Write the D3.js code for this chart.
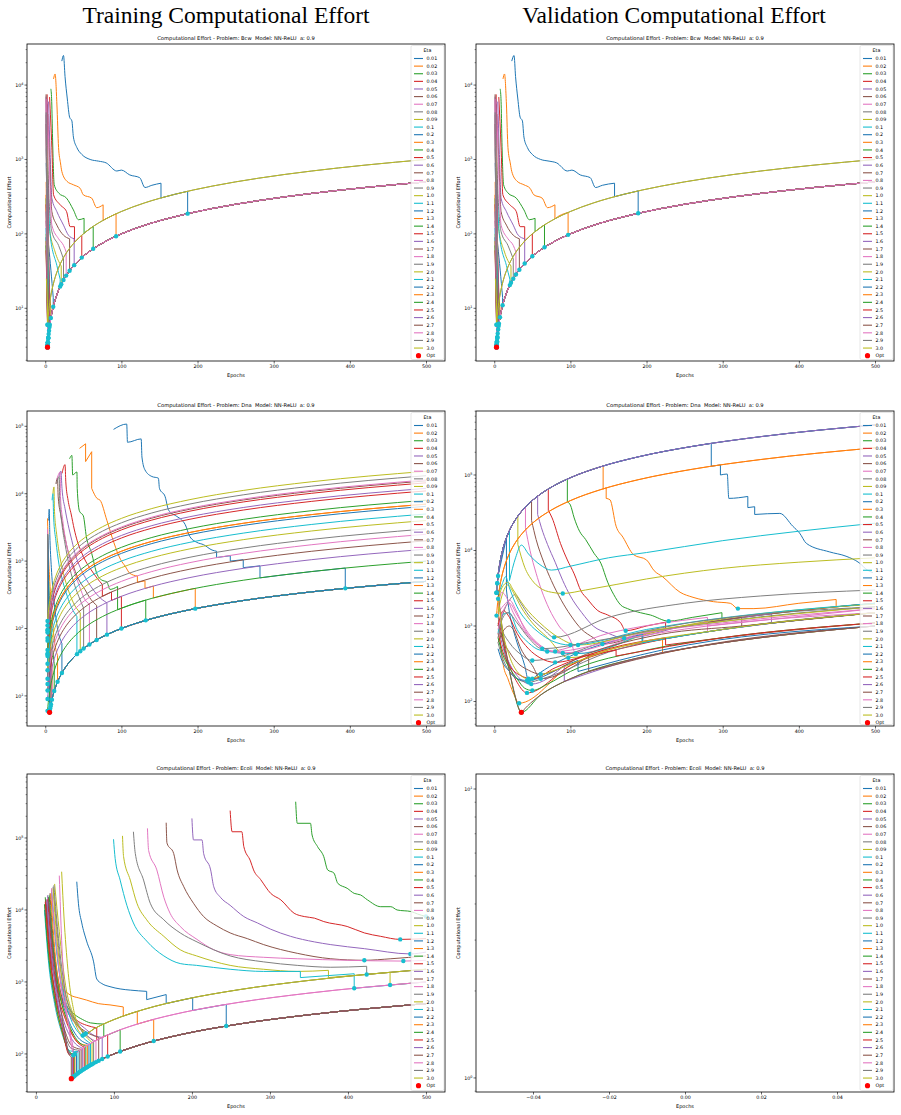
<!DOCTYPE html>
<html><head><meta charset="utf-8">
<script src="https://cdn.jsdelivr.net/npm/d3@7"></script>
<style>
body{margin:0;background:#fff;}
svg text{font-family:"DejaVu Sans",sans-serif;fill:#000;}
</style></head>
<body><svg id="fig" width="901" height="1115"></svg>
<script>
const etas = ["0.01","0.02","0.03","0.04","0.05","0.06","0.07","0.08","0.09","0.1","0.2","0.3","0.4","0.5","0.6","0.7","0.8","0.9","1.0","1.1","1.2","1.3","1.4","1.5","1.6","1.7","1.8","1.9","2.0","2.1","2.2","2.3","2.4","2.5","2.6","2.7","2.8","2.9","3.0"];
const palette = ["#1f77b4","#ff7f0e","#2ca02c","#d62728","#9467bd","#8c564b","#e377c2","#7f7f7f","#bcbd22","#17becf"];

// ---- shared tail lines (effort = epochs x runs) ----
const bcwKnots = [2,3,4,5,6,8,10,13,17,22,28,35,45,60,80,100,130,170,220,280,350,420,500];
const bcwTails = {
  1: [2,3,4,5,6,8,10,13,17,22,28,35,45,60,80,100,130,170,220,280,350,420,500],
  2: [4,6,8,10,12,16,20,26,34,44,56,70,90,120,160,200,260,340,440,560,700,840,1000]
};
const dnaKnots = [3,4,5,7,10,14,20,28,40,55,75,100,140,190,260,350,500];
const dnaTrainTails = {
  1: [3,4,5,7,10,14,20,28,40,55,75,100,140,190,260,350,500],
  2: [6,8,10,14,20,28,40,56,80,110,150,200,280,380,520,700,1000],
  3: [9,12,15,21,30,42,60,84,120,165,225,300,420,570,780,1050,1500],
  4: [12,16,20,28,40,56,80,112,160,220,300,400,560,760,1040,1400,2000],
  5: [15,20,25,35,50,70,100,140,200,275,375,500,700,950,1300,1750,2500],
  6: [18,24,30,42,60,84,120,168,240,330,450,600,840,1140,1560,2100,3000],
  8: [24,32,40,56,80,112,160,224,320,440,600,800,1120,1520,2080,2800,4000],
  10: [30,40,50,70,100,140,200,280,400,550,750,1000,1400,1900,2600,3500,5000],
  13: [39,52,65,91,130,182,260,364,520,715,975,1300,1820,2470,3380,4550,6500],
  14: [42,56,70,98,140,196,280,392,560,770,1050,1400,1960,2660,3640,4900,7000],
  16: [48,64,80,112,160,224,320,448,640,880,1200,1600,2240,3040,4160,5600,8000],
  22: [66,88,110,154,220,308,440,616,880,1210,1650,2200,3080,4180,5720,7700,11000],
  24: [72,96,120,168,240,336,480,672,960,1320,1800,2400,3360,4560,6240,8400,12000],
  29: [87,116,145,203,290,406,580,812,1160,1595,2175,2900,4060,5510,7540,10150,14500],
  31: [93,124,155,217,310,434,620,868,1240,1705,2325,3100,4340,5890,8060,10850,15500],
  32: [96,128,160,224,320,448,640,896,1280,1760,2400,3200,4480,6080,8320,11200,16000],
  37: [111,148,185,259,370,518,740,1036,1480,2035,2775,3700,5180,7030,9620,12950,18500],
  43: [129,172,215,301,430,602,860,1204,1720,2365,3225,4300,6020,8170,11180,15050,21500]
};
const dnaValTails = {
  2: [6,8,10,14,20,28,40,56,80,110,150,200,280,380,520,700,1000],
  458: [1374,1832,2290,3206,4580,6412,9160,12824,18320,25190,34350,45800,64120,87020,119080,160300,229000],
  920: [2760,3680,4600,6440,9200,12880,18400,25760,36800,50600,69000,92000,128800,174800,239200,322000,460000]
};
const ecoliKnots = [10,14,20,28,40,55,75,100,140,190,260,350,500];
const ecoliTrainTails = {
  1: [10,14,20,28,40,55,75,100,140,190,260,350,500],
  2: [20,28,40,56,80,110,150,200,280,380,520,700,1000],
  3: [30,42,60,84,120,165,225,300,420,570,780,1050,1500]
};

// ---- curves, one per eta, [epoch, effort] points or ['T', k, from, to] pieces along a tail ----
const bcwTrainCurves = [
  [[21.8,21000],[24,25000],[26,13000],[29,6500],[32,3700],[35,3300],[37,2000],[41.5,1450],[48,1170],[59,1000],[70,950],[80,900],[94,700],[100,720],[111,620],[124,570],[131,420],[140,450],[152,480],[152,304],['T',2,152,186],[187,374],[187,187],['T',1,187,500]],
  [[10.9,12100],[13,14100],[15.3,5560],[17.5,1450],[20,900],[21.8,690],[28.4,510],[37,457],[45.8,410],[50,335],[61,302],[67.6,225],[76,246],[76,152],['T',2,76,92],[93,186],[93,93],['T',1,93,500]],
  [[7.4,8900],[8.5,6000],[9.6,1950],[11.8,457],[17.5,355],[28,302],[37,210],[43.6,155],[51,162],[51,102],['T',2,51,62],[63,126],[63,63],['T',1,63,500]],
  [[5.7,6900],[8.7,1435],[10.9,335],[19.6,246],[28,199],[32.7,125],[38.4,125],[38.4,77],['T',2,38.4,47],[48,96],[48,48],['T',1,48,500]],
  [[4.4,6000],[6.5,1166],[8.7,302],[15.3,199],[24,131],[30.5,96],[38,86],[38,38],['T',1,38,500]],
  [[3.5,4070],[5.7,1050],[8.7,199],[15.3,131],[24,96],[32,86],[32,32],['T',1,32,500]],
  [[3,5500],[5.7,690],[8.7,131],[17.5,86],[24,70],[27.5,57],[27.5,27.5],['T',1,27.5,500]],
  [[2.2,4000],[4.4,410],[8.7,107],[17.5,70],[24,46],[24,24],['T',1,24,500]],
  [[2.2,800],[5,131],[13,57],[21,37],[21,21],['T',1,21,500]],
  [[3,560],[6.5,96],[15.3,37.5],[19.6,24.6],[19.6,19.6],['T',1,19.6,500]],
  [[1.5,131],[4.4,70],[10.5,14],[10.5,10.5],['T',1,10.5,500]],
  [[1,335],[1.5,130],[7.4,10],[7.4,7.4],['T',1,7.4,500]],
  [[1.2,150],[3,60],[6,15],[6,6],['T',1,6,500]],
  [[2.5,7500],[3,1200],[4.5,60],[5.6,20],[5.6,5.6],['T',1,5.6,500]],
  [[2.2,6500],[3,900],[4.5,40],[5,30],[5,5],['T',1,5,500]],
  [[2,5500],[3,700],[4.5,30],[4.5,4.5],['T',1,4.5,500]],
  [[1.8,6000],[2.5,1500],[4,40],[4,4],['T',1,4,500]],
  [[1.6,4300],[2.5,600],[4,25],[4,4],['T',1,4,500]],
  [[1.5,3000],[2.5,300],[4,20],[4,4],['T',1,4,500]],
  [[1.4,1400],[2.5,200],[4,15],[4,4],['T',1,4,500]],
  [[1.3,900],[2.5,150],[3.5,20],[3.5,3.5],['T',1,3.5,500]],
  [[1.2,500],[2,100],[3.5,15],[3.5,3.5],['T',1,3.5,500]],
  [[1.2,300],[3.5,12],[3.5,3.5],['T',1,3.5,500]],
  [[1.1,250],[3.5,10],[3.5,3.5],['T',1,3.5,500]],
  [[1.1,200],[3.3,10],[3.3,3.3],['T',1,3.3,500]],
  [[1.1,3000],[2,200],[3.3,9],[3.3,3.3],['T',1,3.3,500]],
  [[1.1,150],[3.3,8],[3.3,3.3],['T',1,3.3,500]],
  [[1.1,4000],[2,300],[3.2,8],[3.2,3.2],['T',1,3.2,500]],
  [[1.1,100],[3.2,8],[3.2,3.2],['T',1,3.2,500]],
  [[1.1,120],[3.2,7],[3.2,3.2],['T',1,3.2,500]],
  [[1.1,90],[3.1,7],[3.1,3.1],['T',1,3.1,500]],
  [[1.1,80],[3.1,6],[3.1,3.1],['T',1,3.1,500]],
  [[1.1,70],[3.1,6],[3.1,3.1],['T',1,3.1,500]],
  [[1.1,60],[3,6],[3,3],['T',1,3,500]],
  [[1.1,7000],[1.8,500],[3,6],[3,3],['T',1,3,500]],
  [[1.1,7500],[1.8,600],[3,6],[3,3],['T',1,3,500]],
  [[1.1,6500],[1.8,400],[3,5],[3,3],['T',1,3,500]],
  [[1.2,4300],[2,300],[3,20],[3,6],['T',2,3,500]],
  [[1.5,25],[3,12],[3,6],['T',2,3,500]]
];
const bcwValCurves = [
  [[23,21000],[26,25000],[28,13000],[31,6500],[34,3700],[37,3300],[39,2000],[43.5,1450],[50,1170],[61,1000],[72,950],[82,900],[96,700],[102,720],[113,620],[126,570],[133,420],[142,450],[158,480],[158,316],['T',2,158,188],[189,378],[189,189],['T',1,189,500]],
  [[11.5,12100],[13.5,14100],[16,5560],[18,1450],[21,900],[23,690],[30,510],[39,457],[47,410],[52,335],[63,302],[70,225],[79.7,246],[79.7,159],['T',2,79.7,96],[97,194],[97,97],['T',1,97,500]],
  [[7.8,8900],[9,6000],[10,1950],[12.3,457],[18,355],[29,302],[39,210],[46,155],[53.6,162],[53.6,107],['T',2,53.6,65],[66,132],[66,66],['T',1,66,500]],
  [[6,6900],[9,1435],[11.3,335],[20.5,246],[29,199],[34,125],[40,125],[40,80],['T',2,40,49],[50,100],[50,50],['T',1,50,500]],
  [[4.6,6000],[6.8,1166],[9,302],[16,199],[25,131],[31.5,96],[40,86],[40,40],['T',1,40,500]],
  [[3.6,4070],[5.9,1050],[9,199],[16,131],[25,96],[33,86],[33,33],['T',1,33,500]],
  [[3.1,5500],[5.9,690],[9,131],[18,86],[25,70],[28.5,57],[28.5,28.5],['T',1,28.5,500]],
  [[2.3,4000],[4.6,410],[9,107],[18,70],[25,46],[25,25],['T',1,25,500]],
  [[2.3,800],[5.2,131],[13.5,57],[22,37],[22,22],['T',1,22,500]],
  [[3.1,560],[6.8,96],[16,37.5],[20.5,24.6],[20.5,20.5],['T',1,20.5,500]],
  [[1.5,131],[4.6,70],[11,14],[11,11],['T',1,11,500]],
  [[1,335],[1.5,130],[7.6,10],[7.6,7.6],['T',1,7.6,500]],
  [[1.2,150],[3,60],[6.2,15],[6.2,6.2],['T',1,6.2,500]],
  [[2.5,7500],[3,1200],[4.5,60],[5.8,20],[5.8,5.8],['T',1,5.8,500]],
  [[2.2,6500],[3,900],[4.5,40],[5.2,30],[5.2,5.2],['T',1,5.2,500]],
  [[2,5500],[3,700],[4.6,30],[4.6,4.6],['T',1,4.6,500]],
  [[1.8,6000],[2.5,1500],[4.1,40],[4.1,4.1],['T',1,4.1,500]],
  [[1.6,4300],[2.5,600],[4.1,25],[4.1,4.1],['T',1,4.1,500]],
  [[1.5,3000],[2.5,300],[4,20],[4,4],['T',1,4,500]],
  [[1.4,1400],[2.5,200],[4,15],[4,4],['T',1,4,500]],
  [[1.3,900],[2.5,150],[3.6,20],[3.6,3.6],['T',1,3.6,500]],
  [[1.2,500],[2,100],[3.6,15],[3.6,3.6],['T',1,3.6,500]],
  [[1.2,300],[3.5,12],[3.5,3.5],['T',1,3.5,500]],
  [[1.1,250],[3.5,10],[3.5,3.5],['T',1,3.5,500]],
  [[1.1,200],[3.3,10],[3.3,3.3],['T',1,3.3,500]],
  [[1.1,3000],[2,200],[3.3,9],[3.3,3.3],['T',1,3.3,500]],
  [[1.1,150],[3.3,8],[3.3,3.3],['T',1,3.3,500]],
  [[1.1,4000],[2,300],[3.2,8],[3.2,3.2],['T',1,3.2,500]],
  [[1.1,100],[3.2,8],[3.2,3.2],['T',1,3.2,500]],
  [[1.1,120],[3.2,7],[3.2,3.2],['T',1,3.2,500]],
  [[1.1,90],[3.1,7],[3.1,3.1],['T',1,3.1,500]],
  [[1.1,80],[3.1,6],[3.1,3.1],['T',1,3.1,500]],
  [[1.1,70],[3.1,6],[3.1,3.1],['T',1,3.1,500]],
  [[1.1,60],[3,6],[3,3],['T',1,3,500]],
  [[1.1,7000],[1.8,500],[3,6],[3,3],['T',1,3,500]],
  [[1.1,7500],[1.8,600],[3,6],[3,3],['T',1,3,500]],
  [[1.1,6500],[1.8,400],[3,5],[3,3],['T',1,3,500]],
  [[1.2,4300],[2,300],[3,20],[3,6],['T',2,3,500]],
  [[1.5,25],[3,12],[3,6],['T',2,3,500]]
];
const dnaTrainCurves = [
  [[89.7,90000],[107,108000],[108,58000],[126,65000],[127,35000],[131,22500],[140,18000],[148.6,17000],[150,12000],[157.5,9000],[162,5700],[172.8,4600],[179,4100],[183.7,3500],[190,2300],[199,1900],[208,1750],[219,1460],[225,1400],[225,1130],[243,1200],[243,1000],[260,1050],[260,800],[282,850],[282,564],['T',2,282,393],[394,788],[394,394],['T',1,394,500]],
  [[45,47000],[53,55000],[53,30000],[61,42000],[61,12000],[68,8500],[72,8000],[81,4000],[90,1900],[99,1050],[105,840],[111,660],[121,600],[121,484],[131,510],[131,393],[142,426],[142,284],['T',2,142,196],[197,394],[197,197],['T',1,197,500]],
  [[32,33000],[35,37000],[36,19000],[41.6,21000],[42,12000],[45,5500],[50,4700],[54,2300],[61,1300],[68,640],[74,525],[81,490],[85,380],[95,420],[95,190],['T',2,95,131],[132,264],[132,132],['T',1,132,500]],
  [[22,20000],[26,27000],[27,15000],[30,8000],[34,5000],[38,3000],[42,2000],[47,1400],[53,1000],[60,750],[68,560],[75,450],[75,300],[87,348],[87,261],[100,300],[100,100],['T',1,100,500]],
  [[18,18000],[20.6,21700],[22,12000],[26,6000],[30,3500],[35,2000],[40,1200],[46,800],[53,560],[60,420],[70,300],[81,240],[81,81],['T',1,81,500]],
  [[14,14000],[16.1,17000],[17,9000],[21,4500],[25,2500],[30,1400],[36,900],[43,560],[52,380],[60,270],[67.5,220],[67.5,67.5],['T',1,67.5,500]],
  [[15,16000],[19.7,21000],[20,9000],[23,4000],[27,2000],[32,1100],[38,700],[45,420],[52,270],[58,230],[58,58],['T',1,58,500]],
  [[15,14000],[18.4,18000],[19,8000],[22,3500],[26,1800],[31,900],[37,500],[44,300],[50.4,200],[50.4,50.4],['T',1,50.4,500]],
  [[10,10000],[11.5,12600],[12,6000],[15,2500],[19,1200],[24,650],[30,380],[37,240],[46,170],[46,46],['T',1,46,500]],
  [[9,8000],[10.1,10000],[11,4500],[14,2000],[18,900],[23,500],[29,300],[35,200],[41.6,150],[41.6,41.6],['T',1,41.6,500]],
  [[4.5,4000],[5.2,5900],[6,2500],[8,800],[11,300],[15,120],[21.9,60],[21.9,21.9],['T',1,21.9,500]],
  [[3,4300],[4,1500],[6,500],[9,150],[12.5,60],[16.2,40],[16.2,16.2],['T',1,16.2,500]],
  [[3,2500],[4,800],[6,200],[9,60],[11.8,30],[11.8,11.8],['T',1,11.8,500]],
  [[3,1500],[4,500],[6,100],[8.8,25],[8.8,8.8],['T',1,8.8,500]],
  [[3,2300],[4,400],[6,40],[7.5,20],[7.5,7.5],['T',1,7.5,500]],
  [[3,2000],[4.5,200],[7,20],[7,7],['T',1,7,500]],
  [[3,3000],[4.5,300],[6.5,20],[6.5,6.5],['T',1,6.5,500]],
  [[3,2300],[4.5,150],[6,15],[6,6],['T',1,6,500]],
  [[3,1800],[5,60],[6,12],[6,6],['T',1,6,500]],
  [[3,1000],[5,40],[5.7,10],[5.7,5.7],['T',1,5.7,500]],
  [[3.5,2500],[4.5,300],[5.7,20],[5.7,5.7],['T',1,5.7,500]],
  [['T',14,0,500]],
  [['T',2,0,500]],
  [['T',29,0,500]],
  [['T',3,0,500]],
  [['T',4,0,500]],
  [['T',5,0,500]],
  [[3,1900],['T',6,0,500]],
  [['T',8,0,500]],
  [['T',10,0,500]],
  [['T',13,0,500]],
  [['T',14,0,500]],
  [['T',16,0,500]],
  [['T',22,0,500]],
  [['T',24,0,500]],
  [['T',31,0,500]],
  [['T',32,0,500]],
  [[3,2500],['T',37,0,500]],
  [['T',43,0,500]]
];
const dnaValCurves = [
  [['T',920,0,284],[285,262200],[285,130500],[297,136000],[297,100000],[306,103000],[308,49000],[333,52000],[333,37000],[342,38000],[342,30000],[375,31000],[392,21000],[401,17000],[410,12400],[440,9600],[462,8400],[479,6900],[490,5500],[497,5100]],
  [['T',920,0,142],[143,131560],[143,65500],[147,67300],[147,49000],[152,47000],[160,21000],[169,15000],[183,8800],[200,7500],[210,5400],[221,4500],[244,2800],[261,2400],[288,2100],[310,2000],[320,1700],[341,1700],[400,2000],[449,2245],[449,1800],[500,2000]],
  [['T',920,0,95],[96,88300],[96,44000],[100,40000],[105,27000],[112,18000],[120,14000],[131,9200],[140,6800],[149,3800],[157,2600],[166,1900],[175,1700],[192,1500],[205,1400],[229,1160],[260,1300],[299,1500],[299,1200],[400,1600],[500,2000]],
  [['T',920,0,70],[71,65320],[71,34000],[76,27000],[87,12400],[96,7500],[105,4900],[114,2900],[122,2300],[136,1600],[149,1400],[166,1100],[172.6,867],[200,1000],[225,1125],[225,900],[300,1200],[400,1600],[500,2000]],
  [['T',920,0,56],[57,52440],[57,30000],[62,20000],[70,12000],[80,7000],[90,4000],[100,2500],[115,1500],[130,1000],[150,800],[170.6,687],[250,1000],[364,1456],[364,1092],[430,1290],[500,1500]],
  [['T',920,0,48],[49,45080],[49,25000],[55,14000],[65,7000],[75,4000],[88,2200],[100,1400],[115,900],[130,700],[142,578],[200,800],[325,1300],[325,975],[420,1260],[500,1500]],
  [['T',920,0,40],[41,37720],[41,20000],[47,10000],[55,5000],[62,3000],[72,1700],[85,1000],[100,650],[107,430],[200,800],[280,1120],[280,840],[400,1200],[500,1500]],
  [[5,1000],[10,1300],[15,1800],[20,2200],[27,2600],[35,2000],[45,1400],[55,1100],[65,900],[78.6,708],[150,1300],[250,2000],[350,2500],[500,3000]],
  [['T',920,0,30],[31,28520],[31,12000],[40,6000],[50,4000],[60,3200],[75,2800],[90,2700],[120,3000],[200,4200],[300,5800],[400,7000],[500,8000]],
  [['T',920,0,19],[20,18400],[20,4000],[28,8000],[35.6,11800],[45,9000],[60,6500],[75,5500],[100,6200],[150,8000],[200,9400],[300,13500],[400,18000],[500,23000]],
  [[5,4600],[16,14700],[16,3000],[20,1500],[25,900],[30,600],[40,300],[45,190],[60,240],[72.6,290],[100,400],[195,780],[195,600],[300,900],[500,1500]],
  [[5,2000],[8,600],[12,300],[18,200],[25,130],[32.6,95],[100,300],[221,660],[221,442],[300,600],[400,800],[500,1000]],
  [[8,1500],[12,600],[20,250],[27,120],[35.6,72],[60,120],[100,200],[200,400],[300,600],[400,800],[500,1000]],
  [[6,1200],[12,600],[20,300],[30,180],[43,130],[100,300],[200,600],[300,900],[500,1500]],
  [[6,900],[12,500],[20,320],[30,220],[48.6,170],[92,300],[92,184],[200,400],[300,600],[500,1000]],
  [[5,600],[10,800],[20,1000],[25,900],[35,500],[50,300],[61,200],[124,400],[124,250],[250,500],[500,1000]],
  [[5,1500],[15,2000],[20,2200],[30,1500],[40,900],[55,600],[69.5,460],[150,800],[280,1300],[280,1000],[500,1700]],
  [[5,600],[10,400],[20,250],[30,200],[45,180],[63,200],[150,450],[300,900],[500,1500]],
  [[5,1500],[10,2500],[18,3500],[25,2800],[35,1800],[50,1100],[70,700],[97.3,380],[200,780],[500,1950]],
  [[5,800],[10,1400],[20,1500],[30,900],[45,600],[60,480],[107,430],[194,780],[194,600],[300,900],[500,1500]],
  [[5,500],[10,350],[20,250],[30,200],[43,190],[100,320],[110,350],[110,250],[220,480],[500,1000]],
  [['T',458,4.5,500]],
  [['T',920,3.5,500]],
  [[5,800],[10,500],[20,300],[35,220],[50,200],[80,280],[150,500],[225,700],[225,560],[350,800],[500,1100]],
  [['T',920,4.5,500]],
  [[5,1100],[10,700],[20,450],[30,330],[45,260],[61,230],[120,420],[220,780],[325,1000],[500,1500]],
  [[5,1800],[10,2800],[15,2500],[25,1500],[35,1000],[50,650],[70,480],[90,440],[200,820],[300,1100],[500,1700]],
  [[5,1300],[10,900],[20,600],[35,420],[50,350],[80,380],[150,650],[300,1150],[500,1800]],
  [[5,2200],[10,3200],[18,3800],[25,3000],[40,1800],[60,1100],[85,700],[110,560],[200,850],[350,1300],[500,1800]],
  [[5,2600],[10,3500],[15,4500],[20,3200],[30,1800],[45,1100],[60,800],[75,640],[100,560],[200,900],[500,2000]],
  [['T',920,3.5,500]],
  [['T',458,0,500]],
  [[5,700],[10,450],[20,280],[30,200],[40,150],[50,140],[70,170],[100,250],[200,480],[300,700],[500,1100]],
  [[5,1000],[12,1600],[20,1300],[30,800],[45,500],[60,380],[80,330],[120,400],[160,480],[160,400],[300,700],[500,1100]],
  [['T',920,0,500]],
  [[5,3000],[8,1500],[15,500],[25,150],[36,72],['T',2,36,500]],
  [[5,900],[12,1600],[20,2000],[30,1400],[45,800],[60,560],[80,460],[160,650],[280,1000],[500,1500]],
  [[5,700],[10,1200],[18,1500],[30,1100],[45,700],[63,500],[120,600],[255,1100],[500,1800]],
  [[5,2500],[10,1000],[20,400],[30,250],[45,200],[70,240],[150,480],[300,900],[500,1500]]
];
const ecoliTrainCurves = [
  [],
  [],
  [[333,319000],[335,160000],[352,160000],[354,110000],[361,76000],[369,55000],[374,36000],[382,32600],[387,23400],[399,20000],[408,17000],[416,16200],[425,13800],[442,11100],[455,11100],[463,10000],[481,9500],[489,8800],[500,8100]],
  [[249,240000],[251.5,122000],[264,122000],[266.5,76000],[275,48000],[279,36000],[288,26500],[301,17000],[314,13800],[331,9000],[344,8100],[357,7700],[369,6900],[399,5900],[421,4800],[442,4300],[467,3900],[500,4000]],
  [[200,187000],[202,94000],[213,94000],[215,61000],[224,36000],[228,21000],[236.5,15000],[249,11600],[266.5,8100],[284,6600],[301,5400],[326.5,4300],[357,3600],[378,3300],[421,2900],[480,2450],[500,2600]],
  [[167,163000],[168,85000],[176.6,61000],[181,36000],[189.6,21000],[202,12400],[215,8100],[232,6000],[249,4800],[271,4000],[292,3300],[335,2500],[378,2100],[421,2000],[455,2100],[500,2300]],
  [[143,136000],[144.5,67000],[155,36000],[164,15000],[172,9000],[185,5900],[206.5,3900],[228,2800],[249,2400],[292,2200],[335,2100],[399,2000],[471,1950],[500,2000]],
  [[125,122000],[127.4,61000],[138,26000],[146.6,12400],[164,7300],[185,4800],[206.5,3600],[249,2300],[292,1900],[335,1700],[378,1600],[424,1650],[424,1272],['T',3,424,500]],
  [[111,107000],[112.4,55000],[121,26000],[129.5,12400],[142,7300],[164,4300],[185,2800],[206,2300],[249,1700],[292,1500],[335,1400],[375,1450],[375,1150],[454,1360],[454,908],['T',2,454,500]],
  [[99.5,96000],[101.6,52000],[108,26000],[116.6,11600],[125,6600],[142,3700],[164,2300],[185,1800],[206,1700],[249,1500],[292,1400],[339,1400],[339,1150],[408,1300],[408,816],['T',2,408,500]],
  [[52.4,24700],[54.5,12400],[58.8,6600],[65,3700],[74,1900],[78,1100],[84.5,950],[95,860],[108,800],[121,770],[142,740],[142,568],[167,668],[167,501],[201,603],[201,402],['T',2,201,243],[244,488],[244,244],['T',1,244,500]],
  [[14,12000],[18,3000],[25,1200],[35,800],[45,650],[55,600],[65,560],[80,500],[95,480],[112,450],[112,336],[130,390],[130,260],[151,302],[151,151],['T',1,151,500]],
  [[12,15000],[16,4000],[22,1500],[30,700],[40,450],[50,350],[60,300],[70,270],[87,260],[87,174],[108,216],[108,108],['T',1,108,500]],
  [[13,14000],[18,3000],[25,1000],[35,500],[45,350],[55,280],[65,250],[78,230],[78,156],[92,184],[92,92],['T',1,92,500]],
  [[15,16000],[20,3500],[28,1000],[38,450],[50,300],[62,230],[75,180],[85,170],[85,85],['T',1,85,500]],
  [[18,17000],[22,4000],[30,900],[40,400],[52,260],[65,200],[80.5,170],[80.5,80.5],['T',1,80.5,500]],
  [[20,20000],[25,4500],[32,900],[42,380],[55,230],[68,170],[77,150],[77,77],['T',1,77,500]],
  [[22,21000],[28,4000],[35,800],[45,350],[58,220],[74,150],[74,74],['T',1,74,500]],
  [[24,23000],[30,5000],[38,900],[48,350],[60,200],[72,144],[72,72],['T',1,72,500]],
  [[20,18000],[26,3000],[35,700],[45,300],[58,180],[70,140],[70,70],['T',1,70,500]],
  [[16,15000],[22,3000],[30,800],[40,330],[52,180],[68,136],[68,68],['T',1,68,500]],
  [[19,17000],[24,3000],[32,600],[42,250],[56,140],[66,132],[66,66],['T',1,66,500]],
  [[17,16000],[22,3000],[30,700],[40,300],[52,160],[64,128],[64,64],['T',1,64,500]],
  [[15,14000],[20,3000],[28,700],[38,300],[50,160],[62,124],[62,62],['T',1,62,500]],
  [[14,13000],[19,3000],[27,700],[36,280],[48,150],[60,120],[60,60],['T',1,60,500]],
  [[13,12000],[18,2500],[26,600],[35,250],[46,130],[58,116],[58,58],['T',1,58,500]],
  [[20,19000],[26,3500],[34,700],[42,250],[48,120],[48,96],['T',2,48,500]],
  [[12,11000],[17,2500],[25,600],[34,240],[45,120],[56,112],[56,56],['T',1,56,500]],
  [[22,20000],[28,3000],[36,800],[46,350],[56,200],[60,180],['T',3,60,500]],
  [[11,10000],[16,2000],[24,500],[33,200],[44,110],[54,108],[54,54],['T',1,54,500]],
  [[12,9000],[17,2000],[25,500],[34,200],[45,100],[52,104],[52,52],['T',1,52,500]],
  [[13,8000],[18,1800],[26,450],[35,180],[44,100],[50,100],[50,50],['T',1,50,500]],
  [[11,12000],[16,2500],[24,600],[33,220],[42,110],[49,98],[49,49],['T',1,49,500]],
  [[12,13000],[17,2800],[25,650],[34,230],[42,100],[48,96],[48,48],['T',1,48,500]],
  [[14,14000],[19,3000],[27,600],[36,200],[43,100],[47,94],[47,47],['T',1,47,500]],
  [[16,15000],[21,3200],[29,650],[37,200],[42,100],[45.4,91],[45.4,45.4],['T',1,45.4,500]],
  [[30,30000],[33,3800],[37,700],[42,250],[47,110],[50,100],['T',2,50,500]],
  [[23,22000],[29,4000],[37,800],[47,350],[57,230],[62,186],['T',3,62,500]],
  [[33,34000],[36,8000],[41,1500],[49,380],[58,220],[64,192],['T',3,64,500]]
];
const ecoliValCurves = etas.map(() => []);

const epochTicks = [0,100,200,300,400,500];
const emptyTicks = [-0.04,-0.02,0,0.02,0.04];

const svg = d3.select("#fig");

svg.append("text").attr("x", 226).attr("y", 23).attr("text-anchor", "middle")
  .style("font-family", '"Liberation Serif", serif').style("font-size", "23.5px")
  .text("Training Computational Effort");
svg.append("text").attr("x", 674).attr("y", 23).attr("text-anchor", "middle")
  .style("font-family", '"Liberation Serif", serif').style("font-size", "23.5px")
  .text("Validation Computational Effort");

function expand(curve, tails, knots) {
  const pts = [];
  curve.forEach(p => {
    if (p[0] === 'T') {
      const vals = tails[p[1]];
      knots.forEach((e, i) => { if (e > p[2] && e <= p[3]) pts.push([e, vals[i]]); });
    } else pts.push(p);
  });
  return pts;
}

// monotone runs, broken at the vertical drops
function pathFor(pts, x, y) {
  const line = d3.line().x(p => x(p[0])).y(p => y(p[1])).curve(d3.curveMonotoneX);
  let d = "", run = [pts[0]];
  for (let i = 1; i < pts.length; i++) {
    const p = pts[i], q = pts[i - 1];
    if (p[0] <= q[0]) {
      if (run.length > 1) d += line(run);
      d += `M${x(q[0])},${y(q[1])}L${x(p[0])},${y(p[1])}`;
      run = [p];
    } else run.push(p);
  }
  if (run.length > 1) d += line(run);
  return d;
}

function drawPanel(p) {
  const [x0, y0, x1, y1] = p.box;
  const x = d3.scaleLinear().domain(p.xDomain).range([x0, x1]);
  const y = d3.scaleLog().domain(p.yDomain).range([y1, y0]);
  const g = svg.append("g");

  g.append("text").attr("x", (x0 + x1) / 2).attr("y", y0 - 4).attr("text-anchor", "middle")
    .style("font-size", "5.2px").style("white-space", "pre").text(p.title);

  svg.append("clipPath").attr("id", "clip-" + p.id).append("rect")
    .attr("x", x0).attr("y", y0).attr("width", x1 - x0).attr("height", y1 - y0);
  const plot = g.append("g").attr("clip-path", `url(#clip-${p.id})`);

  const mins = [];
  p.curves.forEach((c, i) => {
    const pts = expand(c, p.tails, p.knots);
    if (pts.length < 2) return;
    plot.append("path").attr("d", pathFor(pts, x, y))
      .attr("fill", "none").attr("stroke", palette[i % 10]).attr("stroke-width", 1);
    mins.push(pts.reduce((a, b) => b[1] < a[1] ? b : a));
  });
  plot.selectAll("circle.m").data(mins).enter().append("circle")
    .attr("cx", d => x(d[0])).attr("cy", d => y(d[1])).attr("r", 2.2).attr("fill", "#17becf");
  if (mins.length) {
    const opt = mins.reduce((a, b) => b[1] < a[1] ? b : a);
    plot.append("circle").attr("cx", x(opt[0])).attr("cy", y(opt[1])).attr("r", 2.6).attr("fill", "#ff0000");
  }

  // x axis
  const xa = g.append("g").attr("transform", `translate(0,${y1})`)
    .call(d3.axisBottom(x).tickValues(p.xTicks).tickSize(2.5).tickPadding(1.5).tickFormat(p.xFormat));
  xa.select(".domain").remove();
  xa.selectAll("line").attr("stroke-width", 0.6);
  xa.selectAll("text").style("font-size", "4.8px");
  g.append("text").attr("x", (x0 + x1) / 2).attr("y", y1 + 15.5).attr("text-anchor", "middle")
    .style("font-size", "5px").text("Epochs");

  // y axis (log)
  const [lo, hi] = p.yDomain;
  for (let n = Math.floor(Math.log10(lo)); n <= Math.ceil(Math.log10(hi)); n++) {
    for (let s = 1; s < 10; s++) {
      const v = s * Math.pow(10, n);
      if (v < lo || v > hi) continue;
      const yy = y(v);
      g.append("line").attr("x1", x0).attr("x2", x0 - (s === 1 ? 2.5 : 1.4))
        .attr("y1", yy).attr("y2", yy).attr("stroke", "#000").attr("stroke-width", s === 1 ? 0.6 : 0.45);
      if (s === 1) {
        const t = g.append("text").attr("x", x0 - 3.5).attr("y", yy + 1.8).attr("text-anchor", "end")
          .style("font-size", "4.8px");
        t.append("tspan").text("10");
        t.append("tspan").attr("dy", -2).style("font-size", "3.4px").text(n);
      }
    }
  }
  g.append("text").attr("transform", `translate(${x0 - 16},${(y0 + y1) / 2}) rotate(-90)`)
    .attr("text-anchor", "middle").style("font-size", "5px").text("Computational Effort");

  g.append("rect").attr("x", x0).attr("y", y0).attr("width", x1 - x0).attr("height", y1 - y0)
    .attr("fill", "none").attr("stroke", "#000").attr("stroke-width", 0.8);

  // legend
  const lx = x1 - 34, ly = y0 + 1.5;
  const leg = g.append("g");
  leg.append("rect").attr("x", lx).attr("y", ly).attr("width", 33).attr("height", (y1 - 1.5) - ly)
    .attr("rx", 1.5).attr("fill", "#fff").attr("fill-opacity", 0.8).attr("stroke", "#cccccc").attr("stroke-width", 0.5);
  leg.append("text").attr("x", lx + 16.5).attr("y", y0 + 8.4).attr("text-anchor", "middle")
    .style("font-size", "4.8px").text("Eta");
  etas.concat(["Opt"]).forEach((name, i) => {
    const yy = y0 + 14.5 + i * 7.62;
    if (name === "Opt") {
      leg.append("circle").attr("cx", lx + 7.5).attr("cy", yy).attr("r", 2.6).attr("fill", "#ff0000");
    } else {
      leg.append("line").attr("x1", lx + 3).attr("x2", lx + 12).attr("y1", yy).attr("y2", yy)
        .attr("stroke", palette[i % 10]).attr("stroke-width", 1.1);
    }
    leg.append("text").attr("x", lx + 15.5).attr("y", yy + 1.7).style("font-size", "4.8px").text(name);
  });
}

const epochFmt = d3.format("d");
const panels = [
  {id: "bt", title: "Computational Effort - Problem: Bcw  Model: NN-ReLU  a: 0.9", box: [27, 44, 445, 361],
   xDomain: [-23.95, 524.95], yDomain: [1.957, 35650], curves: bcwTrainCurves, tails: bcwTails, knots: bcwKnots, xTicks: epochTicks, xFormat: epochFmt},
  {id: "bv", title: "Computational Effort - Problem: Bcw  Model: NN-ReLU  a: 0.9", box: [476, 44, 894, 361],
   xDomain: [-23.95, 524.95], yDomain: [1.957, 35650], curves: bcwValCurves, tails: bcwTails, knots: bcwKnots, xTicks: epochTicks, xFormat: epochFmt},
  {id: "dt", title: "Computational Effort - Problem: Dna  Model: NN-ReLU  a: 0.9", box: [27, 411, 445, 726],
   xDomain: [-23.95, 524.95], yDomain: [3.575, 168700], curves: dnaTrainCurves, tails: dnaTrainTails, knots: dnaKnots, xTicks: epochTicks, xFormat: epochFmt},
  {id: "dv", title: "Computational Effort - Problem: Dna  Model: NN-ReLU  a: 0.9", box: [476, 411, 894, 726],
   xDomain: [-23.95, 524.95], yDomain: [47.4, 704000], curves: dnaValCurves, tails: dnaValTails, knots: dnaKnots, xTicks: epochTicks, xFormat: epochFmt},
  {id: "et", title: "Computational Effort - Problem: Ecoli  Model: NN-ReLU  a: 0.9", box: [27, 774, 445, 1092],
   xDomain: [-11.4, 524.4], yDomain: [29.6, 774000], curves: ecoliTrainCurves, tails: ecoliTrainTails, knots: ecoliKnots, xTicks: epochTicks, xFormat: epochFmt},
  {id: "ev", title: "Computational Effort - Problem: Ecoli  Model: NN-ReLU  a: 0.9", box: [476, 774, 894, 1092],
   xDomain: [-0.055, 0.055], yDomain: [0.894, 11.27], curves: ecoliValCurves, tails: {}, knots: [], xTicks: emptyTicks, xFormat: d3.format(".2f")}
];
panels.forEach(drawPanel);
</script>
</body></html>
